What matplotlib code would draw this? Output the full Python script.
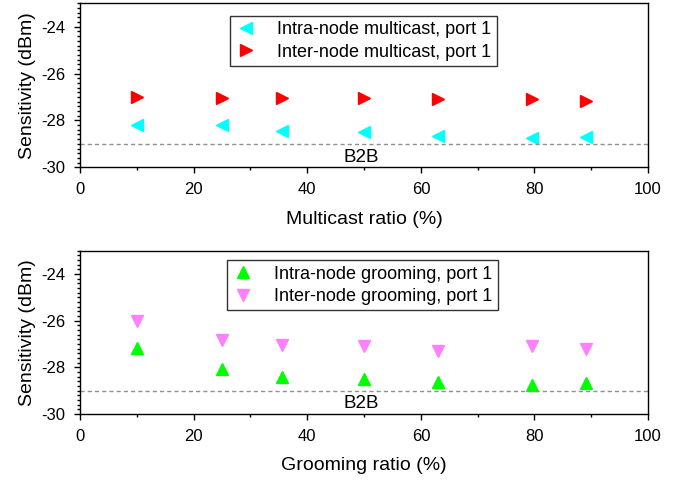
import matplotlib
matplotlib.use('Agg')
import matplotlib.pyplot as plt
from matplotlib.ticker import MultipleLocator

plt.rcParams['font.family'] = ['Liberation Sans', 'DejaVu Sans']
plt.rcParams['axes.unicode_minus'] = False

####################################################################################################
# DATA
####################################################################################################

ratio = [10, 25, 35.5, 50, 63, 79.5, 89]

intra_multicast = [-28.2, -28.18, -28.44, -28.51, -28.68, -28.74, -28.71]
inter_multicast = [-27.0, -27.03, -27.04, -27.05, -27.07, -27.09, -27.17]

intra_grooming = [-27.17, -28.07, -28.4, -28.49, -28.61, -28.75, -28.68]
inter_grooming = [-26.0, -26.81, -27.05, -27.07, -27.28, -27.07, -27.2]

b2b_level = -29

####################################################################################################
# PLOTS
####################################################################################################

fig = plt.figure(figsize=(6.73, 4.8), dpi=100)
ax1 = fig.add_axes([0.119, 0.6515, 0.844, 0.3415])
ax2 = fig.add_axes([0.119, 0.1375, 0.844, 0.340])


def style_axis(ax, xlabel):
    ax.set_xlim(0, 100)
    ax.set_ylim(-30, -23)
    ax.xaxis.set_major_locator(MultipleLocator(20))
    ax.xaxis.set_minor_locator(MultipleLocator(10))
    ax.yaxis.set_major_locator(MultipleLocator(2))
    ax.yaxis.set_minor_locator(MultipleLocator(0.2))
    ax.tick_params(which='both', direction='out', labelsize=12, width=1, pad=6)
    ax.tick_params(which='major', length=4.5)
    ax.tick_params(which='minor', length=2.5)
    ax.set_xlabel(xlabel, fontsize=14, labelpad=10)
    ax.set_ylabel('Sensitivity (dBm)', fontsize=14, labelpad=4)
    for sp in ax.spines.values():
        sp.set_linewidth(1)
    ax.axhline(b2b_level, color='#909090', lw=1, ls=(0, (3, 2.2)))
    ax.text(49.5, b2b_level - 0.57, 'B2B', ha='center', va='center', fontsize=13.5)


# Multicast
ax1.plot(ratio, intra_multicast, ls='none', marker='<', ms=8, color='#00FFFF',
         mec='#00FFFF', label='Intra-node multicast, port 1')
ax1.plot(ratio, inter_multicast, ls='none', marker='>', ms=8, color='#FF0000',
         mec='#FF0000', label='Inter-node multicast, port 1')
style_axis(ax1, 'Multicast ratio (%)')
leg1 = ax1.legend(loc='upper left', bbox_to_anchor=(0.264, 0.923), fontsize=13, frameon=True,
                  fancybox=False, edgecolor='black', handlelength=1.2, handletextpad=1.1,
                  borderpad=0.3, labelspacing=0.3, borderaxespad=0)
leg1.get_frame().set_linewidth(1)

# Grooming
ax2.plot(ratio, intra_grooming, ls='none', marker='^', ms=8, color='#00FF00',
         mec='#00FF00', label='Intra-node grooming, port 1')
ax2.plot(ratio, inter_grooming, ls='none', marker='v', ms=8, color='#FF80FF',
         mec='#FF80FF', label='Inter-node grooming, port 1')
style_axis(ax2, 'Grooming ratio (%)')
leg2 = ax2.legend(loc='upper left', bbox_to_anchor=(0.259, 0.943), fontsize=13, frameon=True,
                  fancybox=False, edgecolor='black', handlelength=1.2, handletextpad=1.1,
                  borderpad=0.3, labelspacing=0.3, borderaxespad=0)
leg2.get_frame().set_linewidth(1)

fig.savefig('out.png', dpi=100)
